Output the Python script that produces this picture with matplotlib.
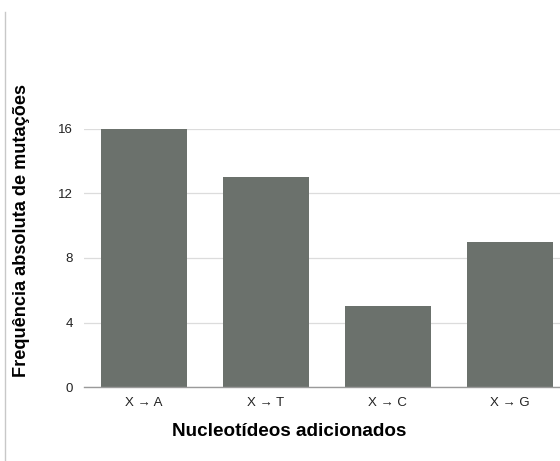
import matplotlib
matplotlib.use("Agg")
import matplotlib.pyplot as plt
from matplotlib.lines import Line2D

categories = ["X \u2192 A", "X \u2192 T", "X \u2192 C", "X \u2192 G"]
counts = [16, 13, 5, 9]
y_ticks = [0, 4, 8, 12, 16]

plt.rcParams['font.family'] = ['Liberation Sans', 'DejaVu Sans']

fig = plt.figure(figsize=(5.6, 4.61), dpi=100)
ax = fig.add_axes([0.15, 0.1605, 0.85, 0.5597])

x = range(len(categories))
ax.bar(x, counts, width=0.705, color='#6b716c', zorder=3)

ax.set_xlim(-0.49, 3.41)
ax.set_ylim(0, 16)
ax.set_yticks(y_ticks)
ax.set_xticks(list(x))
ax.set_xticklabels(categories)
ax.grid(axis='y', color='#dcdcdc', linewidth=0.9, zorder=0)
ax.set_axisbelow(True)
for side in ['top', 'right', 'left']:
    ax.spines[side].set_visible(False)
ax.spines['bottom'].set_color('#9a9a9a')
ax.spines['bottom'].set_linewidth(1.0)
ax.spines['bottom'].set_zorder(4)
ax.tick_params(axis='both', length=0, labelsize=9.5, colors='#222222')
ax.tick_params(axis='y', pad=8)
ax.tick_params(axis='x', pad=7.5)

fig.text(0.039, 0.501, "Frequ\u00eancia absoluta de muta\u00e7\u00f5es",
         rotation=90, ha='center', va='center', fontsize=13.1, fontweight='bold')
fig.text(0.516, 0.063, "Nucleot\u00eddeos adicionados",
         ha='center', va='center', fontsize=13.6, fontweight='bold')

# thin frame line on the left edge
fig.add_artist(Line2D([0.009, 0.009], [0.002, 0.974], transform=fig.transFigure,
                      color='#c8c8c8', linewidth=1.0))

fig.savefig("out.png", dpi=100)
